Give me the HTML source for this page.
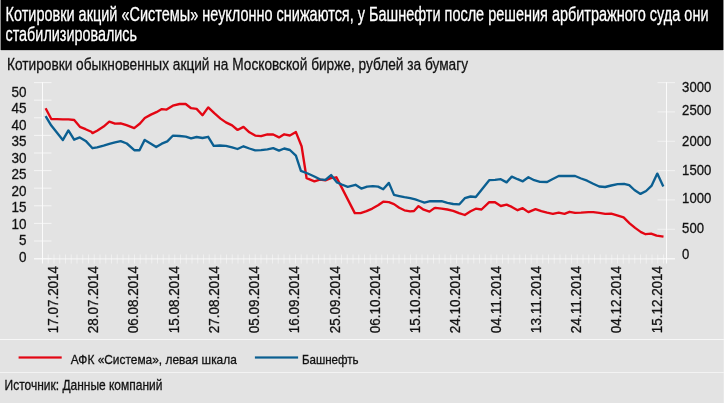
<!DOCTYPE html>
<html lang="ru"><head><meta charset="utf-8"><title>Котировки акций</title>
<style>
html,body{margin:0;padding:0;background:#e3e3e3;}
body{width:724px;height:403px;overflow:hidden;}
svg{display:block;font-family:"Liberation Sans", "Noto Sans CJK SC", sans-serif;}
</style></head><body>
<svg width="724" height="403" viewBox="0 0 724 403">
<rect x="0" y="0" width="724" height="403" fill="#e3e3e3"/>
<rect x="0" y="0" width="1" height="50" fill="#8a8a8a"/>
<rect x="1" y="0" width="722" height="50" fill="#000"/>
<rect x="723" y="0" width="1" height="50" fill="#8a8a8a"/>
<rect x="1" y="50" width="722" height="1" fill="#c2c2c2"/>
<rect x="723" y="50" width="1" height="353" fill="#e9e9e9"/>
<text x="5.5" y="20.7" font-size="19.9" fill="#fff" stroke="#fff" stroke-width="0.3" textLength="703" lengthAdjust="spacingAndGlyphs">Котировки акций «Системы» неуклонно снижаются, у Башнефти после решения арбитражного суда они</text>
<text x="5.5" y="40.8" font-size="19.9" fill="#fff" stroke="#fff" stroke-width="0.3" textLength="131.5" lengthAdjust="spacingAndGlyphs">стабилизировались</text>
<text x="7" y="69.8" font-size="17.2" fill="#111" stroke="#111" stroke-width="0.3" textLength="461" lengthAdjust="spacingAndGlyphs">Котировки обыкновенных акций на Московской бирже, рублей за бумагу</text>
<line x1="42.5" y1="82.1" x2="42.5" y2="263.5" stroke="#fbfbfb" stroke-width="1"/>
<line x1="666.5" y1="82.1" x2="666.5" y2="263.5" stroke="#fbfbfb" stroke-width="1"/>
<line x1="34" y1="258.60" x2="51.5" y2="258.60" stroke="#fbfbfb" stroke-width="1" opacity="0.75"/>
<line x1="34" y1="241.00" x2="51.5" y2="241.00" stroke="#fbfbfb" stroke-width="1" opacity="0.75"/>
<line x1="34" y1="223.40" x2="51.5" y2="223.40" stroke="#fbfbfb" stroke-width="1" opacity="0.75"/>
<line x1="34" y1="205.80" x2="51.5" y2="205.80" stroke="#fbfbfb" stroke-width="1" opacity="0.75"/>
<line x1="34" y1="188.20" x2="51.5" y2="188.20" stroke="#fbfbfb" stroke-width="1" opacity="0.75"/>
<line x1="34" y1="170.60" x2="51.5" y2="170.60" stroke="#fbfbfb" stroke-width="1" opacity="0.75"/>
<line x1="34" y1="153.00" x2="51.5" y2="153.00" stroke="#fbfbfb" stroke-width="1" opacity="0.75"/>
<line x1="34" y1="135.40" x2="51.5" y2="135.40" stroke="#fbfbfb" stroke-width="1" opacity="0.75"/>
<line x1="34" y1="117.80" x2="51.5" y2="117.80" stroke="#fbfbfb" stroke-width="1" opacity="0.75"/>
<line x1="34" y1="100.20" x2="51.5" y2="100.20" stroke="#fbfbfb" stroke-width="1" opacity="0.75"/>
<line x1="34" y1="82.60" x2="51.5" y2="82.60" stroke="#fbfbfb" stroke-width="1" opacity="0.75"/>
<line x1="657.5" y1="258.60" x2="675" y2="258.60" stroke="#fbfbfb" stroke-width="1" opacity="0.6"/>
<line x1="657.5" y1="229.27" x2="675" y2="229.27" stroke="#fbfbfb" stroke-width="1" opacity="0.6"/>
<line x1="657.5" y1="199.93" x2="675" y2="199.93" stroke="#fbfbfb" stroke-width="1" opacity="0.6"/>
<line x1="657.5" y1="170.60" x2="675" y2="170.60" stroke="#fbfbfb" stroke-width="1" opacity="0.6"/>
<line x1="657.5" y1="141.27" x2="675" y2="141.27" stroke="#fbfbfb" stroke-width="1" opacity="0.6"/>
<line x1="657.5" y1="111.93" x2="675" y2="111.93" stroke="#fbfbfb" stroke-width="1" opacity="0.6"/>
<line x1="657.5" y1="82.60" x2="675" y2="82.60" stroke="#fbfbfb" stroke-width="1" opacity="0.6"/>
<line x1="34" y1="258.90000000000003" x2="675" y2="258.90000000000003" stroke="#fbfbfb" stroke-width="1.2" opacity="0.7"/>
<line x1="48.25" y1="254.5" x2="48.25" y2="263.5" stroke="#fbfbfb" stroke-width="1" opacity="0.5"/>
<line x1="54.00" y1="254.5" x2="54.00" y2="263.5" stroke="#fbfbfb" stroke-width="1" opacity="0.5"/>
<line x1="59.75" y1="254.5" x2="59.75" y2="263.5" stroke="#fbfbfb" stroke-width="1" opacity="0.5"/>
<line x1="65.50" y1="254.5" x2="65.50" y2="263.5" stroke="#fbfbfb" stroke-width="1" opacity="0.5"/>
<line x1="71.25" y1="254.5" x2="71.25" y2="263.5" stroke="#fbfbfb" stroke-width="1" opacity="0.5"/>
<line x1="77.00" y1="254.5" x2="77.00" y2="263.5" stroke="#fbfbfb" stroke-width="1" opacity="0.5"/>
<line x1="82.75" y1="254.5" x2="82.75" y2="263.5" stroke="#fbfbfb" stroke-width="1" opacity="0.5"/>
<line x1="88.50" y1="254.5" x2="88.50" y2="263.5" stroke="#fbfbfb" stroke-width="1" opacity="0.5"/>
<line x1="94.25" y1="254.5" x2="94.25" y2="263.5" stroke="#fbfbfb" stroke-width="1" opacity="0.5"/>
<line x1="100.00" y1="254.5" x2="100.00" y2="263.5" stroke="#fbfbfb" stroke-width="1" opacity="0.5"/>
<line x1="105.75" y1="254.5" x2="105.75" y2="263.5" stroke="#fbfbfb" stroke-width="1" opacity="0.5"/>
<line x1="111.50" y1="254.5" x2="111.50" y2="263.5" stroke="#fbfbfb" stroke-width="1" opacity="0.5"/>
<line x1="117.25" y1="254.5" x2="117.25" y2="263.5" stroke="#fbfbfb" stroke-width="1" opacity="0.5"/>
<line x1="123.00" y1="254.5" x2="123.00" y2="263.5" stroke="#fbfbfb" stroke-width="1" opacity="0.5"/>
<line x1="128.75" y1="254.5" x2="128.75" y2="263.5" stroke="#fbfbfb" stroke-width="1" opacity="0.5"/>
<line x1="134.50" y1="254.5" x2="134.50" y2="263.5" stroke="#fbfbfb" stroke-width="1" opacity="0.5"/>
<line x1="140.25" y1="254.5" x2="140.25" y2="263.5" stroke="#fbfbfb" stroke-width="1" opacity="0.5"/>
<line x1="146.00" y1="254.5" x2="146.00" y2="263.5" stroke="#fbfbfb" stroke-width="1" opacity="0.5"/>
<line x1="151.75" y1="254.5" x2="151.75" y2="263.5" stroke="#fbfbfb" stroke-width="1" opacity="0.5"/>
<line x1="157.50" y1="254.5" x2="157.50" y2="263.5" stroke="#fbfbfb" stroke-width="1" opacity="0.5"/>
<line x1="163.25" y1="254.5" x2="163.25" y2="263.5" stroke="#fbfbfb" stroke-width="1" opacity="0.5"/>
<line x1="169.00" y1="254.5" x2="169.00" y2="263.5" stroke="#fbfbfb" stroke-width="1" opacity="0.5"/>
<line x1="174.75" y1="254.5" x2="174.75" y2="263.5" stroke="#fbfbfb" stroke-width="1" opacity="0.5"/>
<line x1="180.50" y1="254.5" x2="180.50" y2="263.5" stroke="#fbfbfb" stroke-width="1" opacity="0.5"/>
<line x1="186.25" y1="254.5" x2="186.25" y2="263.5" stroke="#fbfbfb" stroke-width="1" opacity="0.5"/>
<line x1="192.00" y1="254.5" x2="192.00" y2="263.5" stroke="#fbfbfb" stroke-width="1" opacity="0.5"/>
<line x1="197.75" y1="254.5" x2="197.75" y2="263.5" stroke="#fbfbfb" stroke-width="1" opacity="0.5"/>
<line x1="203.50" y1="254.5" x2="203.50" y2="263.5" stroke="#fbfbfb" stroke-width="1" opacity="0.5"/>
<line x1="209.25" y1="254.5" x2="209.25" y2="263.5" stroke="#fbfbfb" stroke-width="1" opacity="0.5"/>
<line x1="215.00" y1="254.5" x2="215.00" y2="263.5" stroke="#fbfbfb" stroke-width="1" opacity="0.5"/>
<line x1="220.75" y1="254.5" x2="220.75" y2="263.5" stroke="#fbfbfb" stroke-width="1" opacity="0.5"/>
<line x1="226.50" y1="254.5" x2="226.50" y2="263.5" stroke="#fbfbfb" stroke-width="1" opacity="0.5"/>
<line x1="232.25" y1="254.5" x2="232.25" y2="263.5" stroke="#fbfbfb" stroke-width="1" opacity="0.5"/>
<line x1="238.00" y1="254.5" x2="238.00" y2="263.5" stroke="#fbfbfb" stroke-width="1" opacity="0.5"/>
<line x1="243.75" y1="254.5" x2="243.75" y2="263.5" stroke="#fbfbfb" stroke-width="1" opacity="0.5"/>
<line x1="249.50" y1="254.5" x2="249.50" y2="263.5" stroke="#fbfbfb" stroke-width="1" opacity="0.5"/>
<line x1="255.25" y1="254.5" x2="255.25" y2="263.5" stroke="#fbfbfb" stroke-width="1" opacity="0.5"/>
<line x1="261.00" y1="254.5" x2="261.00" y2="263.5" stroke="#fbfbfb" stroke-width="1" opacity="0.5"/>
<line x1="266.75" y1="254.5" x2="266.75" y2="263.5" stroke="#fbfbfb" stroke-width="1" opacity="0.5"/>
<line x1="272.50" y1="254.5" x2="272.50" y2="263.5" stroke="#fbfbfb" stroke-width="1" opacity="0.5"/>
<line x1="278.25" y1="254.5" x2="278.25" y2="263.5" stroke="#fbfbfb" stroke-width="1" opacity="0.5"/>
<line x1="284.00" y1="254.5" x2="284.00" y2="263.5" stroke="#fbfbfb" stroke-width="1" opacity="0.5"/>
<line x1="289.75" y1="254.5" x2="289.75" y2="263.5" stroke="#fbfbfb" stroke-width="1" opacity="0.5"/>
<line x1="295.50" y1="254.5" x2="295.50" y2="263.5" stroke="#fbfbfb" stroke-width="1" opacity="0.5"/>
<line x1="301.25" y1="254.5" x2="301.25" y2="263.5" stroke="#fbfbfb" stroke-width="1" opacity="0.5"/>
<line x1="307.00" y1="254.5" x2="307.00" y2="263.5" stroke="#fbfbfb" stroke-width="1" opacity="0.5"/>
<line x1="312.75" y1="254.5" x2="312.75" y2="263.5" stroke="#fbfbfb" stroke-width="1" opacity="0.5"/>
<line x1="318.50" y1="254.5" x2="318.50" y2="263.5" stroke="#fbfbfb" stroke-width="1" opacity="0.5"/>
<line x1="324.25" y1="254.5" x2="324.25" y2="263.5" stroke="#fbfbfb" stroke-width="1" opacity="0.5"/>
<line x1="330.00" y1="254.5" x2="330.00" y2="263.5" stroke="#fbfbfb" stroke-width="1" opacity="0.5"/>
<line x1="335.75" y1="254.5" x2="335.75" y2="263.5" stroke="#fbfbfb" stroke-width="1" opacity="0.5"/>
<line x1="341.50" y1="254.5" x2="341.50" y2="263.5" stroke="#fbfbfb" stroke-width="1" opacity="0.5"/>
<line x1="347.25" y1="254.5" x2="347.25" y2="263.5" stroke="#fbfbfb" stroke-width="1" opacity="0.5"/>
<line x1="353.00" y1="254.5" x2="353.00" y2="263.5" stroke="#fbfbfb" stroke-width="1" opacity="0.5"/>
<line x1="358.75" y1="254.5" x2="358.75" y2="263.5" stroke="#fbfbfb" stroke-width="1" opacity="0.5"/>
<line x1="364.50" y1="254.5" x2="364.50" y2="263.5" stroke="#fbfbfb" stroke-width="1" opacity="0.5"/>
<line x1="370.25" y1="254.5" x2="370.25" y2="263.5" stroke="#fbfbfb" stroke-width="1" opacity="0.5"/>
<line x1="376.00" y1="254.5" x2="376.00" y2="263.5" stroke="#fbfbfb" stroke-width="1" opacity="0.5"/>
<line x1="381.75" y1="254.5" x2="381.75" y2="263.5" stroke="#fbfbfb" stroke-width="1" opacity="0.5"/>
<line x1="387.50" y1="254.5" x2="387.50" y2="263.5" stroke="#fbfbfb" stroke-width="1" opacity="0.5"/>
<line x1="393.25" y1="254.5" x2="393.25" y2="263.5" stroke="#fbfbfb" stroke-width="1" opacity="0.5"/>
<line x1="399.00" y1="254.5" x2="399.00" y2="263.5" stroke="#fbfbfb" stroke-width="1" opacity="0.5"/>
<line x1="404.75" y1="254.5" x2="404.75" y2="263.5" stroke="#fbfbfb" stroke-width="1" opacity="0.5"/>
<line x1="410.50" y1="254.5" x2="410.50" y2="263.5" stroke="#fbfbfb" stroke-width="1" opacity="0.5"/>
<line x1="416.25" y1="254.5" x2="416.25" y2="263.5" stroke="#fbfbfb" stroke-width="1" opacity="0.5"/>
<line x1="422.00" y1="254.5" x2="422.00" y2="263.5" stroke="#fbfbfb" stroke-width="1" opacity="0.5"/>
<line x1="427.75" y1="254.5" x2="427.75" y2="263.5" stroke="#fbfbfb" stroke-width="1" opacity="0.5"/>
<line x1="433.50" y1="254.5" x2="433.50" y2="263.5" stroke="#fbfbfb" stroke-width="1" opacity="0.5"/>
<line x1="439.25" y1="254.5" x2="439.25" y2="263.5" stroke="#fbfbfb" stroke-width="1" opacity="0.5"/>
<line x1="445.00" y1="254.5" x2="445.00" y2="263.5" stroke="#fbfbfb" stroke-width="1" opacity="0.5"/>
<line x1="450.75" y1="254.5" x2="450.75" y2="263.5" stroke="#fbfbfb" stroke-width="1" opacity="0.5"/>
<line x1="456.50" y1="254.5" x2="456.50" y2="263.5" stroke="#fbfbfb" stroke-width="1" opacity="0.5"/>
<line x1="462.25" y1="254.5" x2="462.25" y2="263.5" stroke="#fbfbfb" stroke-width="1" opacity="0.5"/>
<line x1="468.00" y1="254.5" x2="468.00" y2="263.5" stroke="#fbfbfb" stroke-width="1" opacity="0.5"/>
<line x1="473.75" y1="254.5" x2="473.75" y2="263.5" stroke="#fbfbfb" stroke-width="1" opacity="0.5"/>
<line x1="479.50" y1="254.5" x2="479.50" y2="263.5" stroke="#fbfbfb" stroke-width="1" opacity="0.5"/>
<line x1="485.25" y1="254.5" x2="485.25" y2="263.5" stroke="#fbfbfb" stroke-width="1" opacity="0.5"/>
<line x1="491.00" y1="254.5" x2="491.00" y2="263.5" stroke="#fbfbfb" stroke-width="1" opacity="0.5"/>
<line x1="496.75" y1="254.5" x2="496.75" y2="263.5" stroke="#fbfbfb" stroke-width="1" opacity="0.5"/>
<line x1="502.50" y1="254.5" x2="502.50" y2="263.5" stroke="#fbfbfb" stroke-width="1" opacity="0.5"/>
<line x1="508.25" y1="254.5" x2="508.25" y2="263.5" stroke="#fbfbfb" stroke-width="1" opacity="0.5"/>
<line x1="514.00" y1="254.5" x2="514.00" y2="263.5" stroke="#fbfbfb" stroke-width="1" opacity="0.5"/>
<line x1="519.75" y1="254.5" x2="519.75" y2="263.5" stroke="#fbfbfb" stroke-width="1" opacity="0.5"/>
<line x1="525.50" y1="254.5" x2="525.50" y2="263.5" stroke="#fbfbfb" stroke-width="1" opacity="0.5"/>
<line x1="531.25" y1="254.5" x2="531.25" y2="263.5" stroke="#fbfbfb" stroke-width="1" opacity="0.5"/>
<line x1="537.00" y1="254.5" x2="537.00" y2="263.5" stroke="#fbfbfb" stroke-width="1" opacity="0.5"/>
<line x1="542.75" y1="254.5" x2="542.75" y2="263.5" stroke="#fbfbfb" stroke-width="1" opacity="0.5"/>
<line x1="548.50" y1="254.5" x2="548.50" y2="263.5" stroke="#fbfbfb" stroke-width="1" opacity="0.5"/>
<line x1="554.25" y1="254.5" x2="554.25" y2="263.5" stroke="#fbfbfb" stroke-width="1" opacity="0.5"/>
<line x1="560.00" y1="254.5" x2="560.00" y2="263.5" stroke="#fbfbfb" stroke-width="1" opacity="0.5"/>
<line x1="565.75" y1="254.5" x2="565.75" y2="263.5" stroke="#fbfbfb" stroke-width="1" opacity="0.5"/>
<line x1="571.50" y1="254.5" x2="571.50" y2="263.5" stroke="#fbfbfb" stroke-width="1" opacity="0.5"/>
<line x1="577.25" y1="254.5" x2="577.25" y2="263.5" stroke="#fbfbfb" stroke-width="1" opacity="0.5"/>
<line x1="583.00" y1="254.5" x2="583.00" y2="263.5" stroke="#fbfbfb" stroke-width="1" opacity="0.5"/>
<line x1="588.75" y1="254.5" x2="588.75" y2="263.5" stroke="#fbfbfb" stroke-width="1" opacity="0.5"/>
<line x1="594.50" y1="254.5" x2="594.50" y2="263.5" stroke="#fbfbfb" stroke-width="1" opacity="0.5"/>
<line x1="600.25" y1="254.5" x2="600.25" y2="263.5" stroke="#fbfbfb" stroke-width="1" opacity="0.5"/>
<line x1="606.00" y1="254.5" x2="606.00" y2="263.5" stroke="#fbfbfb" stroke-width="1" opacity="0.5"/>
<line x1="611.75" y1="254.5" x2="611.75" y2="263.5" stroke="#fbfbfb" stroke-width="1" opacity="0.5"/>
<line x1="617.50" y1="254.5" x2="617.50" y2="263.5" stroke="#fbfbfb" stroke-width="1" opacity="0.5"/>
<line x1="623.25" y1="254.5" x2="623.25" y2="263.5" stroke="#fbfbfb" stroke-width="1" opacity="0.5"/>
<line x1="629.00" y1="254.5" x2="629.00" y2="263.5" stroke="#fbfbfb" stroke-width="1" opacity="0.5"/>
<line x1="634.75" y1="254.5" x2="634.75" y2="263.5" stroke="#fbfbfb" stroke-width="1" opacity="0.5"/>
<line x1="640.50" y1="254.5" x2="640.50" y2="263.5" stroke="#fbfbfb" stroke-width="1" opacity="0.5"/>
<line x1="646.25" y1="254.5" x2="646.25" y2="263.5" stroke="#fbfbfb" stroke-width="1" opacity="0.5"/>
<line x1="652.00" y1="254.5" x2="652.00" y2="263.5" stroke="#fbfbfb" stroke-width="1" opacity="0.5"/>
<line x1="657.75" y1="254.5" x2="657.75" y2="263.5" stroke="#fbfbfb" stroke-width="1" opacity="0.5"/>
<line x1="663.50" y1="254.5" x2="663.50" y2="263.5" stroke="#fbfbfb" stroke-width="1" opacity="0.5"/>
<text x="26.4" y="96.6" font-size="15" fill="#111" stroke="#111" stroke-width="0.3" text-anchor="end" textLength="15.0" lengthAdjust="spacingAndGlyphs">50</text>
<text x="26.4" y="113.1" font-size="15" fill="#111" stroke="#111" stroke-width="0.3" text-anchor="end" textLength="15.0" lengthAdjust="spacingAndGlyphs">45</text>
<text x="26.4" y="129.6" font-size="15" fill="#111" stroke="#111" stroke-width="0.3" text-anchor="end" textLength="15.0" lengthAdjust="spacingAndGlyphs">40</text>
<text x="26.4" y="146.1" font-size="15" fill="#111" stroke="#111" stroke-width="0.3" text-anchor="end" textLength="15.0" lengthAdjust="spacingAndGlyphs">35</text>
<text x="26.4" y="162.6" font-size="15" fill="#111" stroke="#111" stroke-width="0.3" text-anchor="end" textLength="15.0" lengthAdjust="spacingAndGlyphs">30</text>
<text x="26.4" y="179.1" font-size="15" fill="#111" stroke="#111" stroke-width="0.3" text-anchor="end" textLength="15.0" lengthAdjust="spacingAndGlyphs">25</text>
<text x="26.4" y="195.6" font-size="15" fill="#111" stroke="#111" stroke-width="0.3" text-anchor="end" textLength="15.0" lengthAdjust="spacingAndGlyphs">20</text>
<text x="26.4" y="212.1" font-size="15" fill="#111" stroke="#111" stroke-width="0.3" text-anchor="end" textLength="15.0" lengthAdjust="spacingAndGlyphs">15</text>
<text x="26.4" y="228.6" font-size="15" fill="#111" stroke="#111" stroke-width="0.3" text-anchor="end" textLength="15.0" lengthAdjust="spacingAndGlyphs">10</text>
<text x="26.4" y="245.1" font-size="15" fill="#111" stroke="#111" stroke-width="0.3" text-anchor="end" textLength="7.5" lengthAdjust="spacingAndGlyphs">5</text>
<text x="26.4" y="261.6" font-size="15" fill="#111" stroke="#111" stroke-width="0.3" text-anchor="end" textLength="7.5" lengthAdjust="spacingAndGlyphs">0</text>
<text x="682.1" y="91.9" font-size="15" fill="#111" stroke="#111" stroke-width="0.3" textLength="29.2" lengthAdjust="spacingAndGlyphs">3000</text>
<text x="682.1" y="114.9" font-size="15" fill="#111" stroke="#111" stroke-width="0.3" textLength="29.2" lengthAdjust="spacingAndGlyphs">2500</text>
<text x="682.1" y="145.7" font-size="15" fill="#111" stroke="#111" stroke-width="0.3" textLength="29.2" lengthAdjust="spacingAndGlyphs">2000</text>
<text x="682.1" y="174.8" font-size="15" fill="#111" stroke="#111" stroke-width="0.3" textLength="29.2" lengthAdjust="spacingAndGlyphs">1500</text>
<text x="682.1" y="202.6" font-size="15" fill="#111" stroke="#111" stroke-width="0.3" textLength="29.2" lengthAdjust="spacingAndGlyphs">1000</text>
<text x="682.1" y="232.7" font-size="15" fill="#111" stroke="#111" stroke-width="0.3" textLength="21.9" lengthAdjust="spacingAndGlyphs">500</text>
<text x="682.1" y="258.5" font-size="15" fill="#111" stroke="#111" stroke-width="0.3" textLength="7.3" lengthAdjust="spacingAndGlyphs">0</text>
<text transform="translate(57.90,266) rotate(-90)" x="0" y="0" font-size="15.3" fill="#111" stroke="#111" stroke-width="0.3" text-anchor="end" textLength="67.2" lengthAdjust="spacingAndGlyphs">17.07.2014</text>
<text transform="translate(98.15,266) rotate(-90)" x="0" y="0" font-size="15.3" fill="#111" stroke="#111" stroke-width="0.3" text-anchor="end" textLength="67.2" lengthAdjust="spacingAndGlyphs">28.07.2014</text>
<text transform="translate(138.40,266) rotate(-90)" x="0" y="0" font-size="15.3" fill="#111" stroke="#111" stroke-width="0.3" text-anchor="end" textLength="67.2" lengthAdjust="spacingAndGlyphs">06.08.2014</text>
<text transform="translate(178.65,266) rotate(-90)" x="0" y="0" font-size="15.3" fill="#111" stroke="#111" stroke-width="0.3" text-anchor="end" textLength="67.2" lengthAdjust="spacingAndGlyphs">15.08.2014</text>
<text transform="translate(218.90,266) rotate(-90)" x="0" y="0" font-size="15.3" fill="#111" stroke="#111" stroke-width="0.3" text-anchor="end" textLength="67.2" lengthAdjust="spacingAndGlyphs">27.08.2014</text>
<text transform="translate(259.15,266) rotate(-90)" x="0" y="0" font-size="15.3" fill="#111" stroke="#111" stroke-width="0.3" text-anchor="end" textLength="67.2" lengthAdjust="spacingAndGlyphs">05.09.2014</text>
<text transform="translate(299.40,266) rotate(-90)" x="0" y="0" font-size="15.3" fill="#111" stroke="#111" stroke-width="0.3" text-anchor="end" textLength="67.2" lengthAdjust="spacingAndGlyphs">16.09.2014</text>
<text transform="translate(339.65,266) rotate(-90)" x="0" y="0" font-size="15.3" fill="#111" stroke="#111" stroke-width="0.3" text-anchor="end" textLength="67.2" lengthAdjust="spacingAndGlyphs">25.09.2014</text>
<text transform="translate(379.90,266) rotate(-90)" x="0" y="0" font-size="15.3" fill="#111" stroke="#111" stroke-width="0.3" text-anchor="end" textLength="67.2" lengthAdjust="spacingAndGlyphs">06.10.2014</text>
<text transform="translate(420.15,266) rotate(-90)" x="0" y="0" font-size="15.3" fill="#111" stroke="#111" stroke-width="0.3" text-anchor="end" textLength="67.2" lengthAdjust="spacingAndGlyphs">15.10.2014</text>
<text transform="translate(460.40,266) rotate(-90)" x="0" y="0" font-size="15.3" fill="#111" stroke="#111" stroke-width="0.3" text-anchor="end" textLength="67.2" lengthAdjust="spacingAndGlyphs">24.10.2014</text>
<text transform="translate(500.65,266) rotate(-90)" x="0" y="0" font-size="15.3" fill="#111" stroke="#111" stroke-width="0.3" text-anchor="end" textLength="67.2" lengthAdjust="spacingAndGlyphs">04.11.2014</text>
<text transform="translate(540.90,266) rotate(-90)" x="0" y="0" font-size="15.3" fill="#111" stroke="#111" stroke-width="0.3" text-anchor="end" textLength="67.2" lengthAdjust="spacingAndGlyphs">13.11.2014</text>
<text transform="translate(581.15,266) rotate(-90)" x="0" y="0" font-size="15.3" fill="#111" stroke="#111" stroke-width="0.3" text-anchor="end" textLength="67.2" lengthAdjust="spacingAndGlyphs">24.11.2014</text>
<text transform="translate(621.40,266) rotate(-90)" x="0" y="0" font-size="15.3" fill="#111" stroke="#111" stroke-width="0.3" text-anchor="end" textLength="67.2" lengthAdjust="spacingAndGlyphs">04.12.2014</text>
<text transform="translate(661.65,266) rotate(-90)" x="0" y="0" font-size="15.3" fill="#111" stroke="#111" stroke-width="0.3" text-anchor="end" textLength="67.2" lengthAdjust="spacingAndGlyphs">15.12.2014</text>
<polyline points="45.6,108.3 51.3,119.0 57.0,119.1 62.8,119.3 68.5,119.4 74.2,120.0 79.9,126.8 85.6,129.2 91.3,131.8 92.5,133.1 97.1,130.8 103.6,126.6 109.3,121.7 115.0,123.7 120.7,123.3 126.5,125.2 134.2,128.1 140.0,123.5 144.8,118.0 150.9,114.6 156.4,112.2 161.8,109.1 166.6,109.6 172.8,105.7 179.6,104.0 185.7,104.0 191.1,108.2 196.6,108.9 202.5,115.2 208.2,107.4 214.3,113.1 220.5,118.6 225.9,122.4 232.1,125.4 237.0,129.5 238.0,129.8 243.5,126.9 249.4,132.3 255.2,135.6 261.0,136.2 267.4,134.3 273.2,134.5 279.0,137.4 284.2,134.3 289.9,135.5 295.9,132.1 301.6,146.3 306.6,178.2 314.4,181.3 319.9,179.7 325.4,180.3 330.8,178.2 336.4,177.3 341.1,186.4 354.8,213.1 360.6,213.1 366.5,211.1 372.3,208.6 378.1,205.3 383.2,201.7 388.9,202.2 394.0,204.1 399.2,207.8 404.4,210.3 410.2,211.4 414.0,211.0 418.5,206.1 423.7,209.7 429.5,211.6 434.0,208.4 435.4,207.9 441.6,208.6 447.4,209.5 453.2,210.8 459.0,213.1 464.8,215.0 470.6,211.3 475.8,208.7 481.5,209.5 489.2,202.2 495.0,202.2 500.8,206.0 506.6,204.7 511.8,206.9 517.6,210.2 522.7,208.2 528.4,212.1 535.5,209.1 541.3,211.2 547.1,212.7 552.9,213.8 558.7,212.7 564.5,213.8 569.5,211.8 575.1,212.9 581.1,212.7 588.5,212.1 593.2,212.1 599.2,212.9 605.2,213.8 611.2,213.6 616.3,215.1 623.6,217.4 629.6,223.3 635.1,227.9 641.0,232.1 645.6,234.2 651.1,233.6 656.6,235.7 663.5,236.7" fill="none" stroke="#e30613" stroke-width="2.35" stroke-linejoin="round"/>
<polyline points="45.6,116.1 51.3,125.6 62.8,140.1 68.4,130.4 74.1,139.7 79.8,137.4 85.7,140.9 92.5,148.2 97.1,147.3 103.6,145.6 109.3,143.9 115.0,142.4 120.7,141.1 126.8,143.5 134.3,150.2 139.5,150.2 144.7,139.9 150.5,143.5 156.2,147.1 161.8,143.7 167.3,141.4 172.8,135.7 179.6,136.0 185.7,136.6 191.1,138.4 196.6,137.0 202.5,138.0 208.2,136.8 213.7,145.9 219.8,145.5 225.9,145.9 232.1,147.3 237.5,149.0 243.5,146.3 249.4,148.5 255.2,150.4 261.0,150.1 267.4,149.4 273.2,148.1 279.0,150.6 284.2,148.5 289.9,150.0 295.9,155.7 300.9,170.9 307.8,173.5 314.4,176.5 319.9,179.3 325.4,179.9 331.1,175.1 337.0,182.4 341.8,184.5 347.7,186.8 355.5,184.8 361.3,188.6 367.1,186.6 372.9,186.2 378.1,186.6 383.2,189.2 388.9,182.9 394.0,194.9 399.2,196.1 404.4,197.2 410.2,198.1 415.3,199.4 419.8,201.0 424.4,202.6 430.2,201.2 435.8,201.2 441.6,201.2 447.4,202.8 453.2,204.0 459.4,204.3 464.8,198.2 470.6,196.5 475.8,197.0 489.2,180.2 495.0,179.8 500.8,179.2 506.6,182.4 511.8,176.6 517.6,179.2 522.8,181.3 528.4,177.3 534.2,180.2 540.0,181.8 547.1,182.0 552.3,179.2 558.7,176.0 564.5,176.0 570.4,175.8 575.1,176.0 581.1,178.5 587.1,180.7 593.2,183.8 599.2,186.5 605.2,187.0 611.2,185.5 617.6,184.2 624.0,183.8 629.2,185.1 634.4,190.0 640.5,193.9 646.1,191.0 651.7,185.6 657.3,173.6 663.3,186.4" fill="none" stroke="#0b5f91" stroke-width="2.35" stroke-linejoin="round"/>
<rect x="0" y="339" width="724" height="1" fill="#f7f7f7"/>
<rect x="0" y="372" width="724" height="1" fill="#f3f3f3"/>
<rect x="18.6" y="356.4" width="43.1" height="2.2" fill="#e30613"/>
<text x="70.8" y="363.8" font-size="13.4" fill="#111" stroke="#111" stroke-width="0.3" textLength="166" lengthAdjust="spacingAndGlyphs">АФК «Система», левая шкала</text>
<rect x="254.9" y="356.4" width="43.2" height="2.2" fill="#0b5f91"/>
<text x="301.9" y="363.7" font-size="13.4" fill="#111" stroke="#111" stroke-width="0.3" textLength="56.7" lengthAdjust="spacingAndGlyphs">Башнефть</text>
<text x="4.6" y="389.7" font-size="14.2" fill="#111" stroke="#111" stroke-width="0.3" textLength="157.8" lengthAdjust="spacingAndGlyphs">Источник: Данные компаний</text>
</svg>
</body></html>
